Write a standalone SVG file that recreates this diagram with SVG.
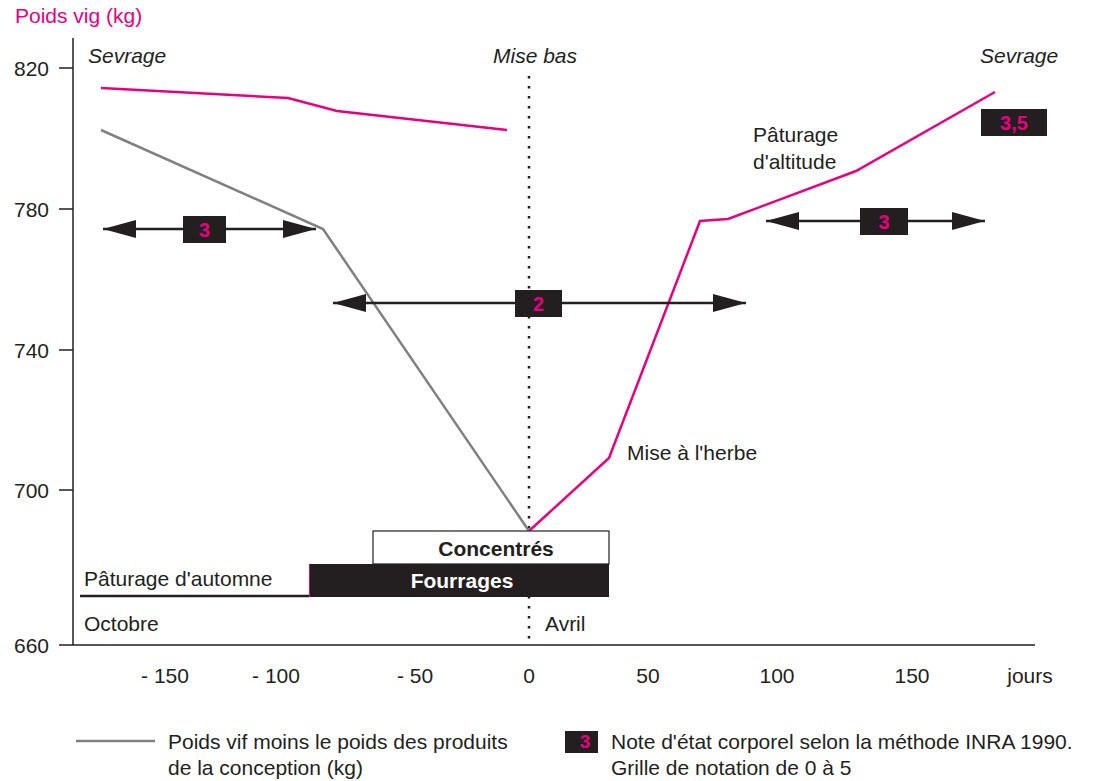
<svg xmlns="http://www.w3.org/2000/svg" width="1098" height="781" viewBox="0 0 1098 781">
<style>
text{font-family:"Liberation Sans",Arial,sans-serif;font-size:21px;fill:#231f20}
.it{font-style:italic}
.pk{fill:#e6007e}
.bx{fill:#231f20}
.nb{font-weight:bold;fill:#e6007e;text-anchor:middle;font-size:20px}
.ax{stroke:#231f20;stroke-width:1.5;fill:none}
.arr{stroke:#231f20;stroke-width:2.5;fill:none}
.mid{text-anchor:middle}
.end{text-anchor:end}
</style>
<defs>
<marker id="ah" viewBox="0 0 33 18" refX="33" refY="9" markerWidth="33" markerHeight="18" markerUnits="userSpaceOnUse" orient="auto-start-reverse">
<path d="M0,0 L33,9 L0,18 Z" fill="#231f20"/>
</marker>
</defs>
<rect width="1098" height="781" fill="#fff"/>
<g id="axes">
<path class="ax" d="M73,38 V645 M59,645 H1035 M59,68 H73 M59,209 H73 M59,350 H73 M59,490 H73"/>
<text x="15" y="23" style="fill:#e6007e">Poids vig (kg)</text>
<text class="end" x="49" y="76">820</text>
<text class="end" x="49" y="217">780</text>
<text class="end" x="49" y="358">740</text>
<text class="end" x="49" y="498">700</text>
<text class="end" x="49" y="653">660</text>
<text class="mid" x="165" y="683">- 150</text>
<text class="mid" x="276" y="683">- 100</text>
<text class="mid" x="415" y="683">- 50</text>
<text class="mid" x="529" y="683">0</text>
<text class="mid" x="648" y="683">50</text>
<text class="mid" x="777" y="683">100</text>
<text class="mid" x="912" y="683">150</text>
<text class="mid" x="1030" y="683">jours</text>
</g>
<g id="misebas-line">
<line x1="529" y1="76" x2="529" y2="645" stroke="#231f20" stroke-width="2.5" stroke-dasharray="2.5,7.5"/>
</g>
<g id="curves">
<polyline points="101,88 288,98 337,111 507,130" fill="none" stroke="#e6007e" stroke-width="2.5"/>
<polyline points="529,531 609,458 700,221 728,219 856,171 995,92" fill="none" stroke="#e6007e" stroke-width="2.5"/>
<polyline points="101,130 323,229 529,531" fill="none" stroke="#808080" stroke-width="2.5"/>
</g>
<g id="connectors">
<line class="arr" x1="103" y1="229" x2="316" y2="229" marker-start="url(#ah)" marker-end="url(#ah)"/>
<line class="arr" x1="333" y1="303" x2="746" y2="303" marker-start="url(#ah)" marker-end="url(#ah)"/>
<line class="arr" x1="766" y1="221" x2="985" y2="221" marker-start="url(#ah)" marker-end="url(#ah)"/>
</g>
<g id="note-3-left">
<rect class="bx" x="183" y="216" width="43" height="27"/>
<text class="nb" x="204.5" y="237">3</text>
</g>
<g id="note-2">
<rect class="bx" x="515" y="290" width="47" height="27"/>
<text class="nb" x="538.5" y="311">2</text>
</g>
<g id="note-3-right">
<rect class="bx" x="860" y="208" width="48" height="27"/>
<text class="nb" x="884" y="229">3</text>
</g>
<g id="note-35">
<rect class="bx" x="981" y="109" width="66" height="27"/>
<text class="nb" x="1014" y="130">3,5</text>
</g>
<g id="labels">
<text class="it" x="88" y="63">Sevrage</text>
<text class="it mid" x="535" y="63">Mise bas</text>
<text class="it" x="980" y="63">Sevrage</text>
<text x="753" y="142">Pâturage</text>
<text x="753" y="169">d'altitude</text>
<text x="627" y="460">Mise à l'herbe</text>
<text x="84" y="631">Octobre</text>
<text x="545" y="631">Avril</text>
</g>
<g id="concentres">
<rect x="373" y="531" width="236" height="33" fill="#fff" stroke="#231f20" stroke-width="1.2"/>
<text class="mid" x="496" y="556" style="font-weight:bold">Concentrés</text>
</g>
<g id="fourrages">
<rect x="309" y="564" width="300" height="33" fill="#231f20"/>
<line x1="309.5" y1="564" x2="309.5" y2="597" stroke="#e6007e" stroke-width="1"/>
<text class="mid" x="462" y="588" style="font-weight:bold;fill:#fff">Fourrages</text>
</g>
<g id="paturage-automne">
<line x1="80" y1="596" x2="309" y2="596" stroke="#231f20" stroke-width="2.5"/>
<text x="84" y="586">Pâturage d'automne</text>
</g>
<g id="legend">
<line x1="76" y1="741" x2="155" y2="741" stroke="#808080" stroke-width="2.5"/>
<text x="168" y="749">Poids vif moins le poids des produits</text>
<text x="168" y="775">de la conception (kg)</text>
<rect class="bx" x="565" y="731" width="33" height="22"/>
<text class="nb" x="585" y="748" style="font-size:19px">3</text>
<text x="611" y="749">Note d'état corporel selon la méthode INRA 1990.</text>
<text x="611" y="775">Grille de notation de 0 à 5</text>
</g>
</svg>
